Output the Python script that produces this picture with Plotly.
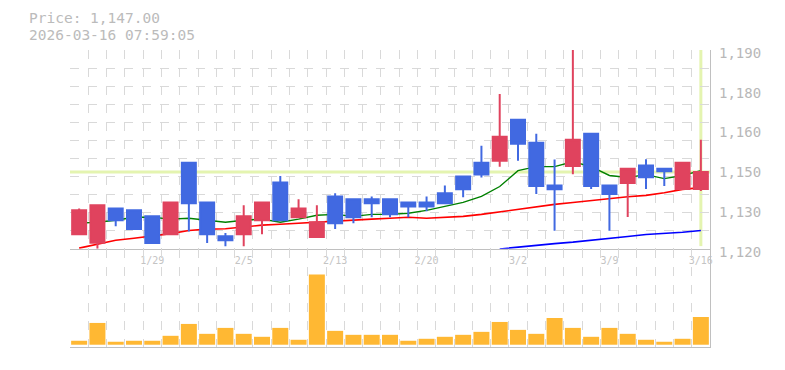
import plotly.graph_objects as go

# ---- data ----
dates = ["1/23", "1/26", "1/27", "1/28", "1/29", "1/30", "2/2", "2/3", "2/4", "2/5",
         "2/6", "2/9", "2/10", "2/12", "2/13", "2/16", "2/17", "2/18", "2/19", "2/20",
         "2/24", "2/25", "2/26", "2/27", "3/2", "3/3", "3/4", "3/5", "3/6", "3/9",
         "3/10", "3/11", "3/12", "3/13", "3/16"]

open_ = [1125.1, 1122.1, 1134.2, 1133.5, 1131.4, 1125.1, 1150.3, 1136.3, 1124.4, 1125.1,
         1130.0, 1143.3, 1131.1, 1124.1, 1138.4, 1137.4, 1137.4, 1137.4, 1136.3, 1136.3,
         1139.5, 1145.4, 1150.3, 1151.0, 1165.4, 1157.3, 1142.3, 1149.1, 1160.5, 1142.3,
         1143.1, 1149.3, 1148.2, 1141.0, 1141.0]
high = [1134.2, 1135.3, 1134.2, 1133.5, 1131.4, 1136.3, 1150.3, 1136.3, 1125.5, 1135.3,
        1136.3, 1145.6, 1137.4, 1135.3, 1139.5, 1137.4, 1138.4, 1137.4, 1136.3, 1138.4,
        1142.3, 1145.4, 1156.3, 1174.5, 1165.4, 1160.5, 1151.4, 1190.0, 1160.5, 1142.3,
        1148.2, 1151.5, 1148.2, 1150.3, 1158.4]
low = [1125.1, 1120.0, 1127.9, 1126.9, 1122.0, 1125.1, 1126.1, 1122.0, 1120.9, 1120.9,
       1125.1, 1130.0, 1131.1, 1124.1, 1126.9, 1129.0, 1131.1, 1131.1, 1131.1, 1133.2,
       1136.0, 1138.1, 1145.1, 1148.9, 1151.0, 1139.3, 1126.3, 1146.2, 1141.0, 1126.3,
       1131.2, 1141.0, 1142.1, 1141.0, 1140.3]
close = [1133.5, 1135.3, 1130.0, 1126.9, 1122.0, 1136.3, 1136.0, 1125.1, 1123.0, 1131.4,
         1136.3, 1130.0, 1134.2, 1129.3, 1129.0, 1131.1, 1136.0, 1132.1, 1134.9, 1134.9,
         1136.0, 1140.9, 1146.1, 1159.4, 1157.0, 1142.1, 1140.9, 1158.4, 1142.1, 1139.3,
         1148.2, 1145.2, 1147.3, 1150.3, 1147.0]

ma_short = [1129.0, 1129.3, 1130.0, 1131.1, 1131.1, 1130.4, 1130.7, 1130.0, 1129.3, 1130.0,
            1130.4, 1129.3, 1130.4, 1131.8, 1132.1, 1131.4, 1132.1, 1132.1, 1132.5, 1133.5,
            1134.9, 1136.3, 1138.4, 1141.9, 1147.5, 1148.9, 1148.9, 1150.6, 1148.9, 1145.8,
            1145.1, 1146.1, 1144.7, 1145.8, 1147.5]
ma_mid = [1120.2, 1121.5, 1123.0, 1123.7, 1124.4, 1125.3, 1126.4, 1126.9, 1127.0, 1127.6,
          1128.3, 1128.6, 1129.0, 1129.3, 1129.7, 1130.0, 1130.4, 1130.7, 1131.1, 1130.7,
          1131.1, 1131.4, 1132.1, 1133.0, 1133.9, 1134.9, 1135.6, 1136.3, 1137.0, 1137.7,
          1138.3, 1138.8, 1139.7, 1140.9, 1141.5]
ma_long = [None] * 23 + [1119.9, 1120.6, 1121.3, 1121.8, 1122.3, 1122.9, 1123.6, 1124.3,
                         1125.0, 1125.3, 1125.8, 1126.4]

volume = [4, 22, 3, 4, 4, 9, 21, 11, 17, 11,
          8, 17, 5, 71, 14, 10, 10, 10, 4, 6,
          8, 10, 13, 23, 15, 11, 27, 17, 8, 17,
          11, 5, 3, 6, 28]

price_range = [1120, 1190]
ytick_vals = [1120, 1134, 1148, 1162, 1176, 1190]
ytick_text = ["1,120", "1,130", "1,150", "1,160", "1,180", "1,190"]
label_idx = [4, 9, 14, 19, 24, 29, 34]
title_line1 = "Price: 1,147.00"
title_line2 = "2026-03-16 07:59:05"

# ---- figure ----
n = len(dates)
xs = list(range(n))
GRID = "#d9d9d9"
AXIS = "#c0c0c0"
RED = "#e0435e"
BLUE = "#4169e1"
PALE = "#e4f4b0"
MONO = "DejaVu Sans Mono"

fig = go.Figure()

# moving averages on the base price axis (drawn beneath the candles' overlay axis)
fig.add_trace(go.Scatter(x=xs, y=ma_short, mode="lines", line=dict(color="#008000", width=1.4),
                         xaxis="x", yaxis="y", hoverinfo="skip"))
fig.add_trace(go.Scatter(x=xs, y=ma_mid, mode="lines", line=dict(color="#ff0000", width=1.6),
                         xaxis="x", yaxis="y", hoverinfo="skip"))
fig.add_trace(go.Scatter(x=xs, y=ma_long, mode="lines", line=dict(color="#0000ff", width=1.6),
                         xaxis="x", yaxis="y", hoverinfo="skip"))

# candles on an overlaying axis that also carries the price labels
fig.add_trace(go.Candlestick(
    x=xs, open=open_, high=high, low=low, close=close,
    increasing=dict(line=dict(color=RED, width=2), fillcolor=RED),
    decreasing=dict(line=dict(color=BLUE, width=2), fillcolor=BLUE),
    whiskerwidth=0, xaxis="x", yaxis="y3"))

fig.add_trace(go.Bar(x=xs, y=volume, marker=dict(color="#ffb833", line=dict(width=0)),
                     xaxis="x2", yaxis="y2"))

grid_x = [i - 0.5 for i in range(n + 1)]
grid_y = [price_range[0] + k * (price_range[1] - price_range[0]) / 11 for k in range(12)]

fig.update_layout(
    width=785, height=370,
    margin=dict(l=70, r=75, t=50, b=20),
    paper_bgcolor="white", plot_bgcolor="white",
    showlegend=False,
    boxgap=0.235, boxgroupgap=0, bargap=0.125,
    xaxis=dict(domain=[0, 1], anchor="y", range=[-0.5, n - 0.5],
               tickmode="array", tickvals=label_idx, ticktext=[dates[i] for i in label_idx],
               ticks="", showgrid=False, zeroline=False,
               tickfont=dict(family=MONO, size=10, color="#c4c4c4"),
               ticklabelstandoff=2,
               minor=dict(tickmode="array", tickvals=grid_x, showgrid=True,
                          gridcolor=GRID, griddash="dash", gridwidth=1, ticks=""),
               showline=True, linecolor=AXIS, linewidth=1,
               rangeslider=dict(visible=False), fixedrange=True),
    xaxis2=dict(domain=[0, 1], anchor="y2", range=[-0.5, n - 0.5],
                showticklabels=False, ticks="", showgrid=False, zeroline=False,
                minor=dict(tickmode="array", tickvals=grid_x, showgrid=True,
                           gridcolor=GRID, griddash="dash", gridwidth=1, ticks=""),
                showline=True, linecolor=AXIS, linewidth=1),
    yaxis=dict(domain=[0.331, 1], anchor="x", range=price_range, side="right",
               tickmode="array", tickvals=grid_y, showticklabels=False, ticks="",
               showgrid=True, gridcolor=GRID, griddash="dash", gridwidth=1, zeroline=False,
               showline=True, linecolor=AXIS, linewidth=1),
    yaxis3=dict(domain=[0.331, 1], anchor="x", overlaying="y", range=price_range, side="right",
                tickmode="array", tickvals=ytick_vals, ticktext=ytick_text, ticks="",
                showgrid=False, zeroline=False, showline=False,
                tickfont=dict(family=MONO, size=14, color="#b8b8b8"),
                ticklabelstandoff=8, ticklabelshift=3),
    yaxis2=dict(domain=[0, 0.331], anchor="x2", range=[-2.3, 97], side="right",
                showticklabels=False, ticks="", showgrid=False, zeroline=False,
                showline=True, linecolor=AXIS, linewidth=1),
)

# current-price marker lines
fig.add_shape(type="line", xref="x domain", x0=0, x1=1, yref="y", y0=close[-1], y1=close[-1],
              line=dict(color=PALE, width=3), layer="below")
fig.add_shape(type="line", xref="x", x0=n - 1, x1=n - 1, yref="y domain", y0=0.013, y1=1,
              line=dict(color=PALE, width=3), layer="below")

fig.add_annotation(text=title_line1, xref="paper", yref="paper", x=-0.0656, y=1.107,
                   xanchor="left", yanchor="middle", showarrow=False, borderpad=0,
                   font=dict(family=MONO, size=14.5, color="#bbbbbb"))
fig.add_annotation(text=title_line2, xref="paper", yref="paper", x=-0.0656, y=1.052,
                   xanchor="left", yanchor="middle", showarrow=False, borderpad=0,
                   font=dict(family=MONO, size=14.5, color="#bbbbbb"))

fig.write_html("out.html")
